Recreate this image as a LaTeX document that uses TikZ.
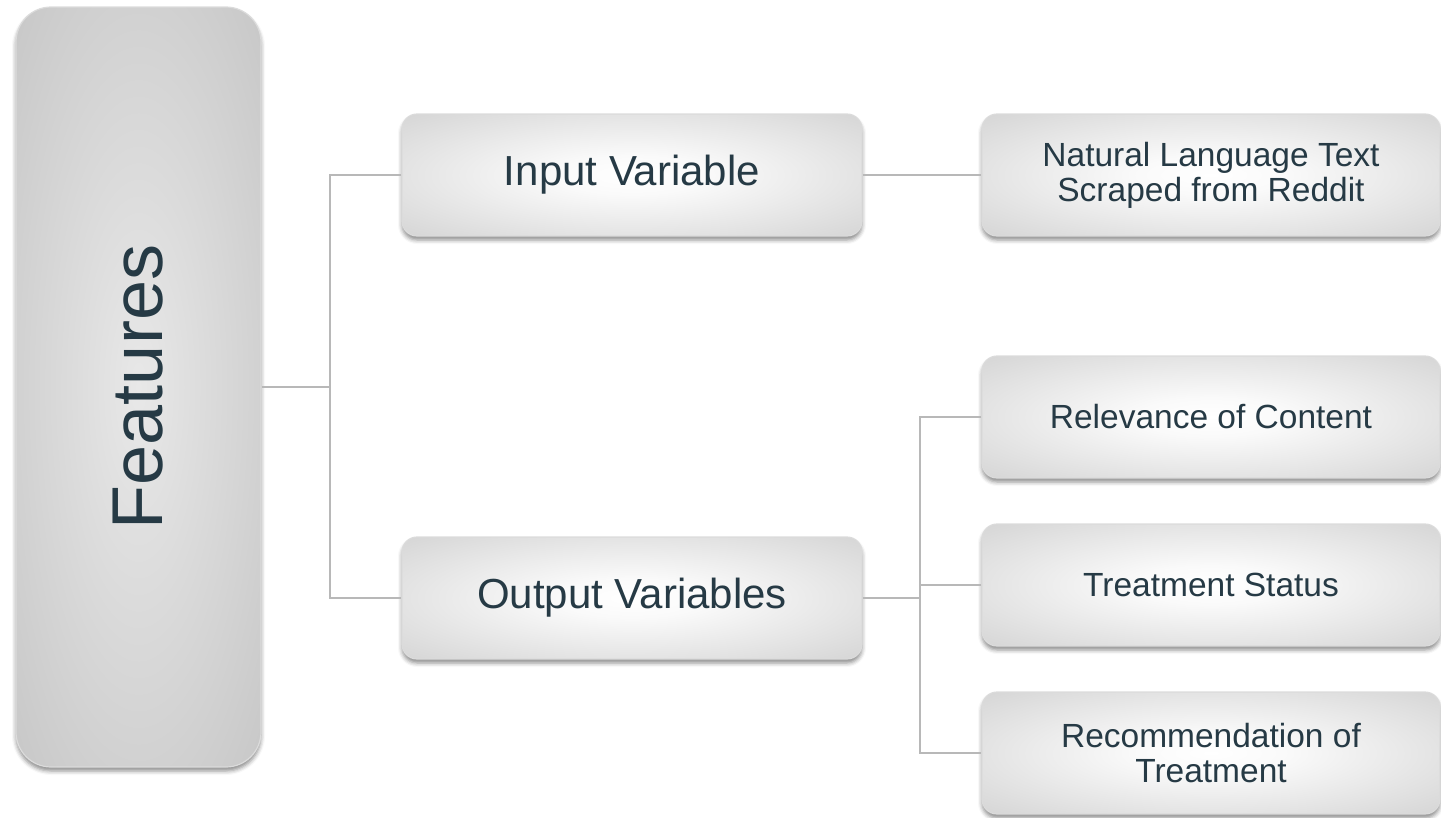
\documentclass[tikz,border=0pt]{standalone}
\usepackage{fontspec}
\setmainfont{Liberation Sans}
\usetikzlibrary{shadows.blur}
\definecolor{txt}{HTML}{263A45}
\definecolor{rim}{HTML}{C2C2C2}
\definecolor{rootmid}{HTML}{E8E8E8}
\definecolor{wire}{HTML}{B8B8B8}
% radial fills that run from a light centre out to the rim colour at the card edges
\pgfdeclareradialshading{softcard}{\pgfpoint{0bp}{0bp}}{color(0bp)=(white); color(8bp)=(white!98!black); color(50bp)=(rim)}
\pgfdeclareradialshading{softroot}{\pgfpoint{0bp}{0bp}}{color(0bp)=(rootmid); color(50bp)=(rim!96!black)}
\begin{document}
\begin{tikzpicture}[x=1pt,y=-1pt,
  card/.style={rounded corners=15pt, shading=softcard,
    draw=white!86!black, line width=1.2pt,
    blur shadow={shadow xshift=0pt, shadow yshift=-4pt, shadow blur radius=4pt, shadow opacity=45},
    text=txt, align=center, inner sep=0pt},
  midcard/.style={card, minimum width=460pt, minimum height=122pt,
    font=\fontsize{42}{48}\selectfont},
  leafcard/.style={card, minimum width=458pt, minimum height=122pt,
    font=\fontsize{33.5}{35}\selectfont},
  link/.style={draw=wire, line width=1.2pt}]
\useasboundingbox (0,0) rectangle (1441,817);

% root
\node[card, rounded corners=35pt, minimum width=245pt, minimum height=760pt,
      shading=softroot] (feat) at (138.5,387) {};
\node[text=txt, rotate=90, font=\fontsize{72}{80}\selectfont] (featlbl) at (feat.center) {Features};

% second level
\node[midcard] (inp) at (632,175) {Input Variable};
\node[midcard] (outp) at (632,598) {Output Variables};

% leaves
\node[leafcard] (nl) at (1211,175) {Natural Language Text\\Scraped from Reddit};
\node[leafcard] (rel) at (1211,417) {Relevance of Content};
\node[leafcard] (ts) at (1211,585) {Treatment Status};
\node[leafcard] (rec) at (1211,753) {Recommendation of\\Treatment};

% connectors
\coordinate (j1) at (330,387);
\coordinate (j2) at (920,598);
\draw[link] (feat.east) -- (j1);
\draw[link] (inp.west) -| (j1) |- (outp.west);
\draw[link] (inp.east) -- (nl.west);
\draw[link] (outp.east) -- (j2);
\draw[link] (rel.west) -| (j2) |- (rec.west);
\draw[link] (ts.west) -- (ts.west -| j2);
\end{tikzpicture}
\end{document}
